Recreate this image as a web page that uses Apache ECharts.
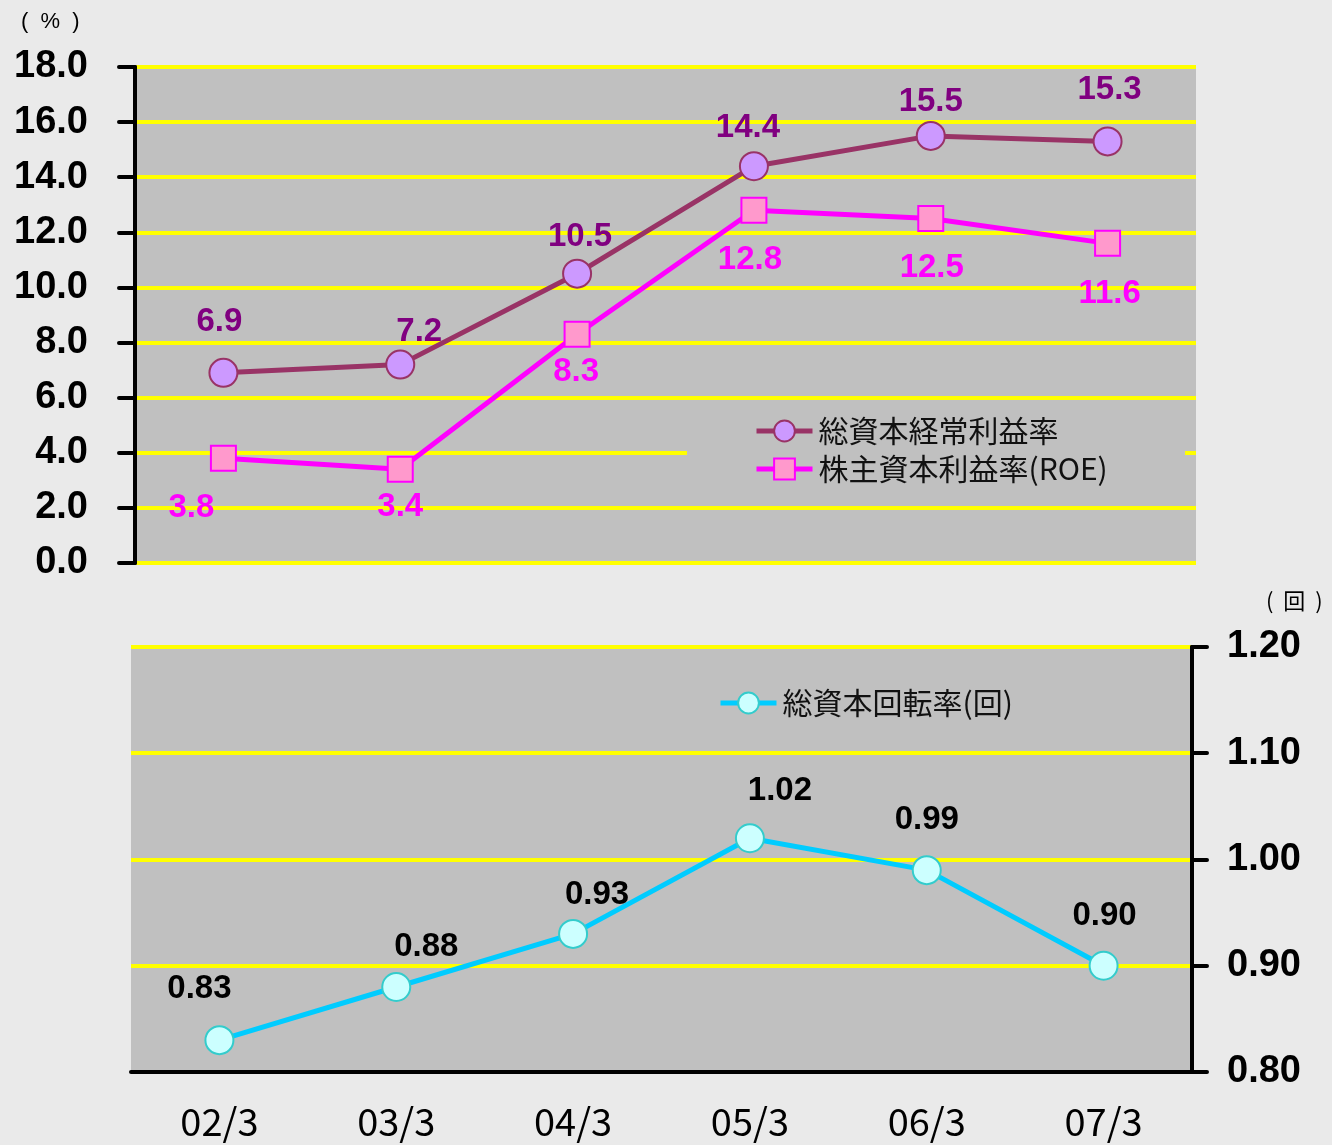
<!DOCTYPE html>
<html>
<head>
<meta charset="utf-8">
<title>総資本経常利益率・株主資本利益率・総資本回転率</title>
<script src="https://cdn.jsdelivr.net/npm/echarts@6/dist/echarts.min.js"></script>
<style>
  html, body { margin: 0; padding: 0; background: #eaeaea; }
  #chart { width: 1332px; height: 1145px; }
</style>
</head>
<body>
<div id="chart"></div>
<script>
// Fiscal periods (year/month of closing)
const periods = ['02/3', '03/3', '04/3', '05/3', '06/3', '07/3'];

// Upper panel, percent
const ordinaryRoa = [6.9, 7.2, 10.5, 14.4, 15.5, 15.3];   // 総資本経常利益率
const roe = [3.8, 3.4, 8.3, 12.8, 12.5, 11.6];            // 株主資本利益率(ROE)

// Lower panel, times
const assetTurnover = [0.83, 0.88, 0.93, 1.02, 0.99, 0.90]; // 総資本回転率(回)

const seriesNames = ['総資本経常利益率', '株主資本利益率(ROE)', '総資本回転率(回)'];

// Axis scales
const pctAxis = { min: 0, max: 18, interval: 2 };
const turnAxis = { min: 0.8, max: 1.2, interval: 0.1 };

// Per-point label nudges (px) so the value labels clear the lines
const roaNudge = [[-4, -51], [19, -33], [3, -37], [-6, -38], [0, -34], [2, -51]];
const roeNudge = [[-32, 50], [0, 38], [-1, 38], [-4, 50], [1, 49], [2, 51]];
const turnNudge = [[-20, -51], [30, -40], [24, -39], [30, -47], [0, -50], [1, -50]];

const numFont = '"Liberation Sans", Arial, sans-serif';
const jpFont = '"Noto Sans CJK JP", "Noto Sans", sans-serif';

function withLabels(values, nudges) {
  return values.map((v, i) => ({
    value: v,
    label: { offset: nudges[i] }
  }));
}

const chart = echarts.init(document.getElementById('chart'));

const yellowSplit = { show: true, lineStyle: { color: '#ffff00', width: 4 } };
const blackLine = { color: '#000', width: 4, cap: 'round' };

const legendText = { color: '#111', fontFamily: jpFont, fontSize: 30, lineHeight: 30, padding: [0, 0, 0, 1] };

chart.setOption({
  backgroundColor: '#eaeaea',
  animation: false,
  grid: [
    { left: 135, top: 67, width: 1061, height: 496, show: true, backgroundColor: '#c0c0c0', borderWidth: 0 },
    { left: 131, top: 647, width: 1061, height: 425, show: true, backgroundColor: '#c0c0c0', borderWidth: 0 }
  ],
  xAxis: [
    {
      type: 'category', gridIndex: 0, data: periods, boundaryGap: true,
      axisLine: { show: false }, axisTick: { show: false }, axisLabel: { show: false },
      splitLine: { show: false }
    },
    {
      type: 'category', gridIndex: 1, data: periods, boundaryGap: true,
      axisLine: { show: true, lineStyle: blackLine },
      axisTick: { show: false },
      axisLabel: { color: '#000', fontFamily: jpFont, fontSize: 38, margin: 31 },
      splitLine: { show: false }
    }
  ],
  yAxis: [
    {
      type: 'value', gridIndex: 0, position: 'left',
      min: pctAxis.min, max: pctAxis.max, interval: pctAxis.interval,
      axisLine: { show: true, lineStyle: blackLine },
      axisTick: { show: true, length: 16, lineStyle: blackLine },
      axisLabel: {
        color: '#000', fontFamily: numFont, fontWeight: 'bold', fontSize: 38, margin: 47,
        padding: [5, 0, 0, 0],
        formatter: v => v.toFixed(1)
      },
      splitLine: yellowSplit
    },
    {
      type: 'value', gridIndex: 1, position: 'right',
      min: turnAxis.min, max: turnAxis.max, interval: turnAxis.interval,
      axisLine: { show: true, lineStyle: blackLine },
      axisTick: { show: true, length: 15, lineStyle: blackLine },
      axisLabel: {
        color: '#000', fontFamily: numFont, fontWeight: 'bold', fontSize: 38, margin: 35,
        padding: [4, 0, 0, 0],
        formatter: v => v.toFixed(2)
      },
      splitLine: yellowSplit
    }
  ],
  legend: [
    {
      data: [seriesNames[0], seriesNames[1]],
      orient: 'vertical', left: 749, top: 411, itemGap: 8,
      itemWidth: 56, itemHeight: 26,
      lineStyle: { width: 5 },
      textStyle: legendText
    },
    {
      data: [seriesNames[2]],
      orient: 'vertical', left: 713, top: 683,
      itemWidth: 56, itemHeight: 26,
      lineStyle: { width: 5 },
      textStyle: legendText
    }
  ],
  graphic: [
    // plain box behind the upper legend
    { type: 'rect', z: 1, silent: true, shape: { x: 687, y: 400, width: 498, height: 103 }, style: { fill: '#c0c0c0' } },
    { type: 'text', left: 21, top: 11, style: { text: '(  %  )', font: '22px "Liberation Sans", Arial, sans-serif', fill: '#000' } },
    { type: 'text', left: 1266, top: 590, style: { text: '(  回  )', font: '22px "Noto Sans CJK JP", sans-serif', fill: '#000' } }
  ],
  series: [
    {
      name: seriesNames[0], type: 'line', xAxisIndex: 0, yAxisIndex: 0,
      data: withLabels(ordinaryRoa, roaNudge),
      symbol: 'circle', symbolSize: 28,
      lineStyle: { color: '#993366', width: 5 },
      itemStyle: { color: '#cc99ff', borderColor: '#993366', borderWidth: 2 },
      label: {
        show: true, position: 'inside', color: '#800080',
        fontFamily: numFont, fontWeight: 'bold', fontSize: 33,
        formatter: p => p.value.toFixed(1)
      }
    },
    {
      name: seriesNames[1], type: 'line', xAxisIndex: 0, yAxisIndex: 0,
      data: withLabels(roe, roeNudge),
      symbol: 'rect', symbolSize: 25,
      lineStyle: { color: '#ff00ff', width: 5 },
      itemStyle: { color: '#ff99cc', borderColor: '#ff00ff', borderWidth: 2 },
      label: {
        show: true, position: 'inside', color: '#ff00ff',
        fontFamily: numFont, fontWeight: 'bold', fontSize: 33,
        formatter: p => p.value.toFixed(1)
      }
    },
    {
      name: seriesNames[2], type: 'line', xAxisIndex: 1, yAxisIndex: 1,
      data: withLabels(assetTurnover, turnNudge),
      symbol: 'circle', symbolSize: 28,
      lineStyle: { color: '#00ccff', width: 5 },
      itemStyle: { color: '#ccffff', borderColor: '#33cccc', borderWidth: 2 },
      label: {
        show: true, position: 'inside', color: '#000',
        fontFamily: numFont, fontWeight: 'bold', fontSize: 33,
        formatter: p => p.value.toFixed(2)
      }
    }
  ]
});
</script>
</body>
</html>
